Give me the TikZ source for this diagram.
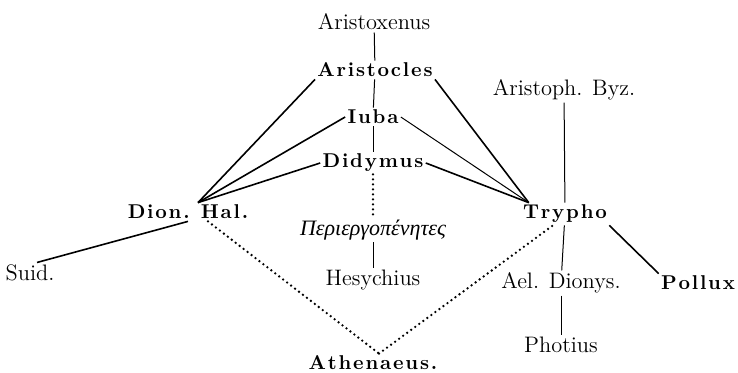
\documentclass[tikz,border=0pt]{standalone}
\usepackage{fontspec}
\usepackage{tikz}
\newfontfamily\greekfont{Liberation Serif}
\makeatletter
\newcommand\sprd[1]{\@tfor\sprd@c:=#1\do{\sprd@c\kern0.9pt}\unkern}
\makeatother

\begin{document}
\begin{tikzpicture}[
  x=0.5pt, y=-0.5pt,
  src/.style={inner sep=1pt, font={\fontsize{11.2}{13}\selectfont}},
  bsrc/.style={inner sep=1pt, font={\fontsize{10}{13}\selectfont\bfseries}},
  grsrc/.style={inner sep=1pt, font={\fontsize{11}{13}\selectfont\greekfont\itshape}},
  srcedge/.style={line width=0.8pt},
  thinedge/.style={line width=0.5pt},
  lostedge/.style={line width=1.3pt, line cap=round, dash pattern=on 0pt off 2.5pt}
]
\useasboundingbox (0,0) rectangle (738,373);
\node[src] (arxen) at (374,22) {Aristoxenus};
\node[bsrc] (arcles) at (375,70) {\sprd{Aristocles}};
\node[bsrc] (iuba) at (373,117) {\sprd{Iuba}};
\node[bsrc] (didym) at (373,163) {\sprd{Didymus}};
\node[bsrc] (dionhal) at (188,212) {\sprd{Dion.\ Hal.}};
\node[bsrc] (trypho) at (565,214) {\sprd{Trypho}};
\node[src] (arbyz) at (564,90) {Aristoph. Byz.};
\node[grsrc] (perieg) at (373,230) {Περιεργοπένητες};
\node[src] (hesych) at (373,280) {Hesychius};
\node[src] (suid) at (30,273) {Suid.};
\node[src] (aeldion) at (561,283) {Ael. Dionys.};
\node[bsrc] (pollux) at (698,283) {\sprd{Pollux}};
\node[src] (photius) at (561,345) {Photius};
\node[bsrc] (athen) at (373,363) {\sprd{Athenaeus.}};
% middle column
\draw[thinedge] (arxen) -- (arcles);
\draw[thinedge] (arcles) -- (iuba);
\draw[thinedge] (iuba) -- (didym);
\draw[lostedge] (didym) -- (perieg);
\draw[thinedge] (perieg) -- (hesych);
% to Dion. Hal.
\draw[srcedge] (arcles.south west) -- ([xshift=5pt]dionhal.north);
\draw[srcedge] (iuba.west) -- ([xshift=5pt]dionhal.north);
\draw[srcedge] (didym.west) -- ([xshift=5pt]dionhal.north);
\draw[srcedge] (dionhal.south) -- ([xshift=3.5pt]suid.north);
% to Trypho
\draw[srcedge] (arcles.south east) -- ([xshift=4pt]trypho.north west);
\draw[thinedge] (iuba.east) -- ([xshift=4pt]trypho.north west);
\draw[srcedge] (didym.east) -- ([xshift=4pt]trypho.north west);
\draw[thinedge] (arbyz) -- (trypho);
\draw[thinedge] (trypho) -- (aeldion);
\draw[thinedge] (aeldion) -- (photius);
\draw[srcedge] (trypho.south east) -- (pollux.north west);
% Athenaeus
\draw[lostedge] ([xshift=10pt]dionhal.south) -- ([xshift=3pt]athen.north);
\draw[lostedge] ([xshift=3pt]athen.north) -- ([xshift=-6pt]trypho.south);
\end{tikzpicture}
\end{document}
